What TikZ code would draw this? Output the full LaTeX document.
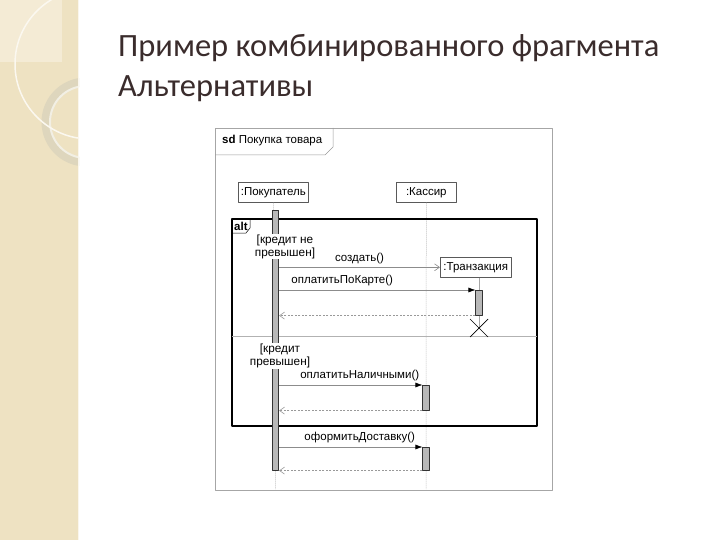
\documentclass[tikz,border=0pt]{standalone}
\usepackage{fontspec}
\setmainfont{Liberation Sans}
\newfontfamily\titlefont{Carlito}
\usetikzlibrary{arrows.meta}
\definecolor{strip}{HTML}{EEE2C2}
\definecolor{stripl}{HTML}{F4EBD5}
\definecolor{ring}{HTML}{DED6BD}
\definecolor{titlec}{HTML}{3A2C2C}
\definecolor{barc}{HTML}{B8B8B8}
\tikzset{
  every picture/.style={line join=round, >=Stealth},
  obj/.style={draw=black!65, line width=0.6pt, fill=white, font=\fontsize{11.5}{13}\selectfont, inner sep=2pt, minimum height=20pt, anchor=north west},
  act/.style={draw=black!80, fill=barc, line width=0.6pt, minimum width=6.5pt, inner sep=0pt, anchor=north},
  life/.style={draw=black!35, line width=0.5pt, dash pattern=on 1pt off 1pt},
  call/.style={draw=black!45, line width=0.6pt, -{Latex[length=7pt,width=5pt,black]}},
  create/.style={draw=black!45, line width=0.6pt, -{Straight Barb[length=5pt,width=7pt]}},
  ret/.style={draw=black!40, line width=0.6pt, dash pattern=on 2pt off 1.5pt, -{Straight Barb[length=5pt,width=7pt]}},
  msg/.style={font=\fontsize{11.5}{13}\selectfont, inner sep=1pt},
  guard/.style={font=\fontsize{11.8}{13}\selectfont, align=center, fill=white, inner sep=1pt},
  frm/.style={font=\fontsize{11.5}{13}\selectfont, inner sep=0pt, anchor=west},
  ttl/.style={anchor=base west, font=\titlefont\fontsize{32.5}{40}\selectfont, text=titlec, inner sep=0pt},
}
\begin{document}
\begin{tikzpicture}[x=1pt,y=-1pt]
\useasboundingbox (0,0) rectangle (720,540);
% left strip
\fill[strip] (0,0) rectangle (79,540);
\fill[stripl] (0,0) rectangle (62,62);
\begin{scope}
\clip (0,0) rectangle (79,540);
\draw[ring, line width=9pt] (86,122) circle (40);
\draw[white!60!ring, line width=2pt] (86,122) circle (36);
\draw[white!75!strip, line width=1.5pt] (90,64) circle (75);
\end{scope}
\draw[white!70!strip, line width=1pt] (78.5,0) -- (78.5,540);
% title
\node[ttl] (title1) at (118,57) {Пример комбинированного фрагмента};
\node[ttl] (title2) at (118,97) {Альтернативы};
% sd frame
\draw[black!35, line width=0.8pt] (215,128) rectangle (552,490);
\draw[black!40, line width=0.5pt] (215,155) -- (325,155) -- (333,147) -- (333,128);
\node[frm] (sd) at (222,141) {\textbf{sd} Покупка товара};
% objects
\node[obj, minimum width=70pt] (buyer) at (238,182) {:Покупатель};
\node[obj, minimum width=60pt] (cashier) at (396,182) {:Кассир};
\coordinate (bend) at (275.5,489);
\coordinate (cend) at (426,489);
\draw[life] (buyer.south) -- (bend);
\draw[life] (cashier.south) -- (cend);
% alt fragment
\draw[black, line width=1.6pt] (232,219) rectangle (537,426);
\draw[black, line width=0.5pt] (232,233) -- (246,233) -- (250,228) -- (250,219);
\node[frm] (alt) at (234,226) {\textbf{alt}};
\draw[black!30, line width=0.6pt] (232,336) -- (537,336);
% activations
\node[act, minimum height=260pt] (bbar) at (275.5,210) {};
\node[act, minimum height=25pt] (tbar) at (479,290) {};
\node[act, minimum height=25pt] (nbar) at (426,385) {};
\node[act, minimum height=23pt] (dbar) at (426,447) {};
% guards
\node[guard] (g1) at (285,246.5) {[кредит не\\превышен]};
\node[guard] (g2) at (280,356) {[кредит\\превышен]};
% transaction
\node[obj, minimum width=71pt] (trans) at (440,257) {:Транзакция};
\coordinate (xend) at (479,328);
\draw[black!35, line width=0.5pt] (trans.south -| tbar.north) -- (tbar.north);
\draw[black!35, line width=0.5pt] (tbar.south) -- (xend);
\draw[black, line width=0.7pt] ([shift={(-9,-9)}]xend) -- ([shift={(9,9)}]xend);
\draw[black, line width=0.7pt] ([shift={(-9,9)}]xend) -- ([shift={(9,-9)}]xend);
% messages
\draw[create] (bbar.east |- trans.west) -- node[msg, above=2pt] (m1) {создать()} (trans.west);
\draw[call] (bbar.east |- tbar.north west) -- node[msg, above=3pt, xshift=-35pt] (m2) {оплатитьПоКарте()} (tbar.north west);
\draw[ret] (tbar.south west) -- (bbar.east |- tbar.south west);
\draw[call] (bbar.east |- nbar.north west) -- node[msg, above=3pt, xshift=9pt] (m3) {оплатитьНаличными()} (nbar.north west);
\draw[ret] (nbar.south west) -- (bbar.east |- nbar.south west);
\draw[call] (bbar.east |- dbar.north west) -- node[msg, above=3pt, xshift=9pt] (m4) {оформитьДоставку()} (dbar.north west);
\draw[ret] (dbar.south west) -- (bbar.east |- dbar.south west);
\end{tikzpicture}
\end{document}
